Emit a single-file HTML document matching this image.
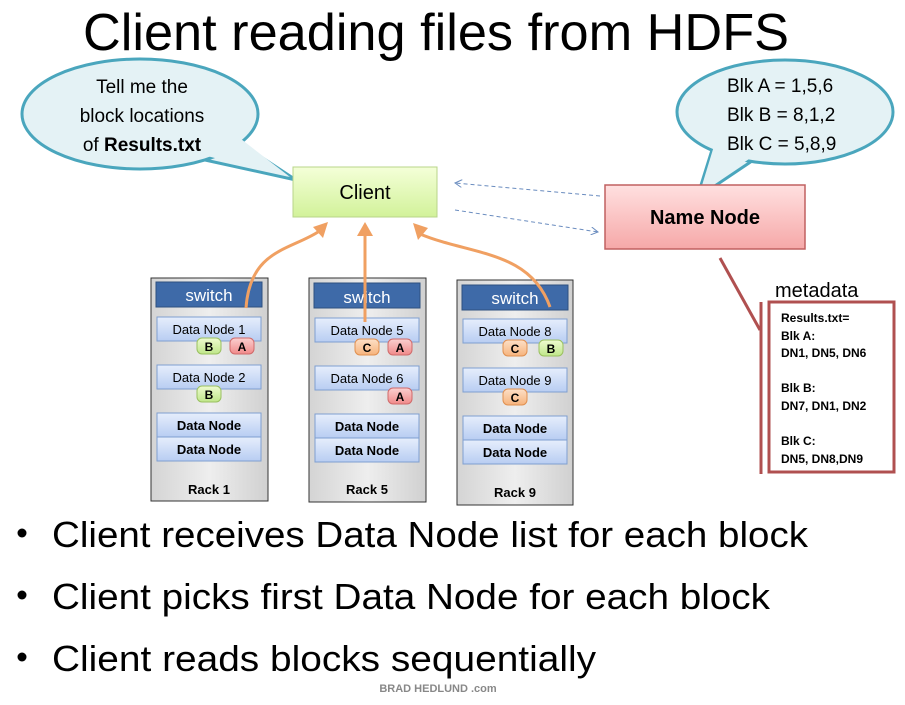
<!DOCTYPE html>
<html><head><meta charset="utf-8"><style>
body{margin:0;background:#fff;width:905px;height:700px;overflow:hidden}
text{font-family:"Liberation Sans",sans-serif}
</style></head><body>
<svg width="905" height="700" viewBox="0 0 905 700" xmlns="http://www.w3.org/2000/svg">
<defs>
<linearGradient id="gr" x1="0" y1="0" x2="0" y2="1"><stop offset="0" stop-color="#f4ffd8"/><stop offset="1" stop-color="#d2f29a"/></linearGradient>
<linearGradient id="pk" x1="0" y1="0" x2="0" y2="1"><stop offset="0" stop-color="#ffe0e0"/><stop offset="1" stop-color="#f6a8a8"/></linearGradient>
<linearGradient id="dn" x1="0" y1="0" x2="0" y2="1"><stop offset="0" stop-color="#e6eefc"/><stop offset="1" stop-color="#b8cdf2"/></linearGradient>
<linearGradient id="rk" x1="0" y1="0" x2="1" y2="0"><stop offset="0" stop-color="#d4d4d4"/><stop offset="0.5" stop-color="#eeeeee"/><stop offset="1" stop-color="#d0d0d0"/></linearGradient>
<linearGradient id="cA" x1="0" y1="0" x2="0" y2="1"><stop offset="0" stop-color="#fbd0d0"/><stop offset="1" stop-color="#f08a8a"/></linearGradient>
<linearGradient id="cB" x1="0" y1="0" x2="0" y2="1"><stop offset="0" stop-color="#eefbd0"/><stop offset="1" stop-color="#bfe68a"/></linearGradient>
<linearGradient id="cC" x1="0" y1="0" x2="0" y2="1"><stop offset="0" stop-color="#fde0c8"/><stop offset="1" stop-color="#f6b37c"/></linearGradient>
<marker id="ah" markerWidth="8" markerHeight="8" refX="7" refY="4" orient="auto"><path d="M0,0 L7,4 L0,8" fill="none" stroke="#6a8cbf" stroke-width="1"/></marker>
</defs>

<text x="436" y="50" font-size="52" text-anchor="middle" fill="#000" textLength="706" lengthAdjust="spacingAndGlyphs">Client reading files from HDFS</text>

<!-- left bubble -->
<path d="M205,160 L296,180 L240,143 Z" fill="#e4f2f5" stroke="#4aa6bd" stroke-width="3" stroke-linejoin="round"/>
<ellipse cx="140" cy="114" rx="118" ry="55" fill="#e4f2f5" stroke="#4aa6bd" stroke-width="3"/>
<path d="M207,156 L290,177 L241,139 Z" fill="#e4f2f5"/>
<text font-size="19" text-anchor="middle" fill="#000"><tspan x="142" y="93">Tell me the</tspan><tspan x="142" y="122">block locations</tspan><tspan x="142" y="151">of <tspan font-weight="bold">Results.txt</tspan></tspan></text>

<!-- right bubble -->
<path d="M712,150 L697,198 L752,161 Z" fill="#e4f2f5" stroke="#4aa6bd" stroke-width="3" stroke-linejoin="round"/>
<ellipse cx="785" cy="112" rx="108" ry="52" fill="#e4f2f5" stroke="#4aa6bd" stroke-width="3"/>
<path d="M714,146 L700,192 L752,157 Z" fill="#e4f2f5"/>
<text font-size="19" fill="#000"><tspan x="727" y="92">Blk A = 1,5,6</tspan><tspan x="727" y="121">Blk B = 8,1,2</tspan><tspan x="727" y="150">Blk C = 5,8,9</tspan></text>

<!-- client -->
<rect x="293" y="167" width="144" height="50" fill="url(#gr)" stroke="#b8d48a" stroke-width="1"/>
<text x="365" y="199" font-size="20" text-anchor="middle">Client</text>

<!-- name node -->
<rect x="605" y="185" width="200" height="64" fill="url(#pk)" stroke="#c06060" stroke-width="1.5"/>
<text x="705" y="224" font-size="20" font-weight="bold" text-anchor="middle">Name Node</text>

<!-- dashed arrows -->
<line x1="600" y1="196" x2="455" y2="183" stroke="#6a8cbf" stroke-dasharray="4,3" marker-end="url(#ah)"/>
<line x1="455" y1="210" x2="598" y2="232" stroke="#6a8cbf" stroke-dasharray="4,3" marker-end="url(#ah)"/>

<!-- metadata -->
<line x1="720" y1="258" x2="760" y2="330" stroke="#b05050" stroke-width="3"/>
<line x1="761" y1="302" x2="761" y2="474" stroke="#b05050" stroke-width="3"/>
<text x="775" y="297" font-size="20">metadata</text>
<rect x="769" y="302" width="125" height="170" fill="#fff" stroke="#b05050" stroke-width="3"/>
<text font-size="12" font-weight="bold"><tspan x="781" y="322">Results.txt=</tspan><tspan x="781" y="340">Blk A:</tspan><tspan x="781" y="357">DN1, DN5, DN6</tspan><tspan x="781" y="392">Blk B:</tspan><tspan x="781" y="410">DN7, DN1, DN2</tspan><tspan x="781" y="445">Blk C:</tspan><tspan x="781" y="463">DN5, DN8,DN9</tspan></text>

<!-- racks -->
<g font-size="13">
<rect x="151" y="278" width="117" height="223" fill="url(#rk)" stroke="#333"/>
<rect x="156" y="282" width="106" height="25" fill="#3e6aa8" stroke="#2d507f"/>
<text x="209" y="301" font-size="17" fill="#fff" text-anchor="middle">switch</text>
<rect x="157" y="317" width="104" height="24" fill="url(#dn)" stroke="#7f9fd0"/><text x="209" y="334" text-anchor="middle">Data Node 1</text>
<rect x="157" y="365" width="104" height="24" fill="url(#dn)" stroke="#7f9fd0"/><text x="209" y="382" text-anchor="middle">Data Node 2</text>
<rect x="157" y="413" width="104" height="24" fill="url(#dn)" stroke="#7f9fd0"/><text x="209" y="430" text-anchor="middle" font-weight="bold">Data Node</text>
<rect x="157" y="437" width="104" height="24" fill="url(#dn)" stroke="#7f9fd0"/><text x="209" y="454" text-anchor="middle" font-weight="bold">Data Node</text>
<text x="209" y="494" text-anchor="middle" font-weight="bold">Rack 1</text>
<rect x="309" y="278" width="117" height="224" fill="url(#rk)" stroke="#333"/>
<rect x="314" y="283" width="106" height="25" fill="#3e6aa8" stroke="#2d507f"/>
<text x="367" y="303" font-size="17" fill="#fff" text-anchor="middle">switch</text>
<rect x="315" y="318" width="104" height="24" fill="url(#dn)" stroke="#7f9fd0"/><text x="367" y="335" text-anchor="middle">Data Node 5</text>
<rect x="315" y="366" width="104" height="24" fill="url(#dn)" stroke="#7f9fd0"/><text x="367" y="383" text-anchor="middle">Data Node 6</text>
<rect x="315" y="414" width="104" height="24" fill="url(#dn)" stroke="#7f9fd0"/><text x="367" y="431" text-anchor="middle" font-weight="bold">Data Node</text>
<rect x="315" y="438" width="104" height="24" fill="url(#dn)" stroke="#7f9fd0"/><text x="367" y="455" text-anchor="middle" font-weight="bold">Data Node</text>
<text x="367" y="494" text-anchor="middle" font-weight="bold">Rack 5</text>
<rect x="457" y="280" width="116" height="225" fill="url(#rk)" stroke="#333"/>
<rect x="462" y="285" width="106" height="25" fill="#3e6aa8" stroke="#2d507f"/>
<text x="515" y="304" font-size="17" fill="#fff" text-anchor="middle">switch</text>
<rect x="463" y="319" width="104" height="24" fill="url(#dn)" stroke="#7f9fd0"/><text x="515" y="336" text-anchor="middle">Data Node 8</text>
<rect x="463" y="368" width="104" height="24" fill="url(#dn)" stroke="#7f9fd0"/><text x="515" y="385" text-anchor="middle">Data Node 9</text>
<rect x="463" y="416" width="104" height="24" fill="url(#dn)" stroke="#7f9fd0"/><text x="515" y="433" text-anchor="middle" font-weight="bold">Data Node</text>
<rect x="463" y="440" width="104" height="24" fill="url(#dn)" stroke="#7f9fd0"/><text x="515" y="457" text-anchor="middle" font-weight="bold">Data Node</text>
<text x="515" y="497" text-anchor="middle" font-weight="bold">Rack 9</text>
</g>

<!-- cylinders -->
<g font-size="12" font-weight="bold" text-anchor="middle">
<g transform="translate(209,346)"><rect x="-12" y="-8" width="24" height="16" rx="5" fill="url(#cB)" stroke="#9ac060"/><text y="5">B</text></g>
<g transform="translate(242,346)"><rect x="-12" y="-8" width="24" height="16" rx="5" fill="url(#cA)" stroke="#d06a6a"/><text y="5">A</text></g>
<g transform="translate(209,394)"><rect x="-12" y="-8" width="24" height="16" rx="5" fill="url(#cB)" stroke="#9ac060"/><text y="5">B</text></g>
<g transform="translate(367,347)"><rect x="-12" y="-8" width="24" height="16" rx="5" fill="url(#cC)" stroke="#e09050"/><text y="5">C</text></g>
<g transform="translate(400,347)"><rect x="-12" y="-8" width="24" height="16" rx="5" fill="url(#cA)" stroke="#d06a6a"/><text y="5">A</text></g>
<g transform="translate(400,396)"><rect x="-12" y="-8" width="24" height="16" rx="5" fill="url(#cA)" stroke="#d06a6a"/><text y="5">A</text></g>
<g transform="translate(515,348)"><rect x="-12" y="-8" width="24" height="16" rx="5" fill="url(#cC)" stroke="#e09050"/><text y="5">C</text></g>
<g transform="translate(551,348)"><rect x="-12" y="-8" width="24" height="16" rx="5" fill="url(#cB)" stroke="#9ac060"/><text y="5">B</text></g>
<g transform="translate(515,397)"><rect x="-12" y="-8" width="24" height="16" rx="5" fill="url(#cC)" stroke="#e09050"/><text y="5">C</text></g>
</g>

<!-- orange arrows -->
<g fill="none" stroke="#f0a062" stroke-width="3">
<path d="M246,308 C250,250 290,250 318,232"/>
<path d="M365,322 L365,234"/>
<path d="M550,307 C530,250 470,255 420,234"/>
</g>
<path d="M313,227 L328,222 L323,238 Z" fill="#f0a062"/>
<path d="M357,236 L365,222 L373,236 Z" fill="#f0a062"/>
<path d="M413,223 L428,228 L418,240 Z" fill="#f0a062"/>

<!-- bullets -->
<g font-size="36" fill="#000">
<circle cx="22" cy="533" r="4.5"/><text x="52" y="547" textLength="756" lengthAdjust="spacingAndGlyphs">Client receives Data Node list for each block</text>
<circle cx="22" cy="595" r="4.5"/><text x="52" y="609" textLength="718" lengthAdjust="spacingAndGlyphs">Client picks first Data Node for each block</text>
<circle cx="22" cy="657" r="4.5"/><text x="52" y="671" textLength="544" lengthAdjust="spacingAndGlyphs">Client reads blocks sequentially</text>
</g>
<text x="438" y="692" font-size="11" font-weight="bold" fill="#888" text-anchor="middle">BRAD HEDLUND .com</text>
</svg>
</body></html>
